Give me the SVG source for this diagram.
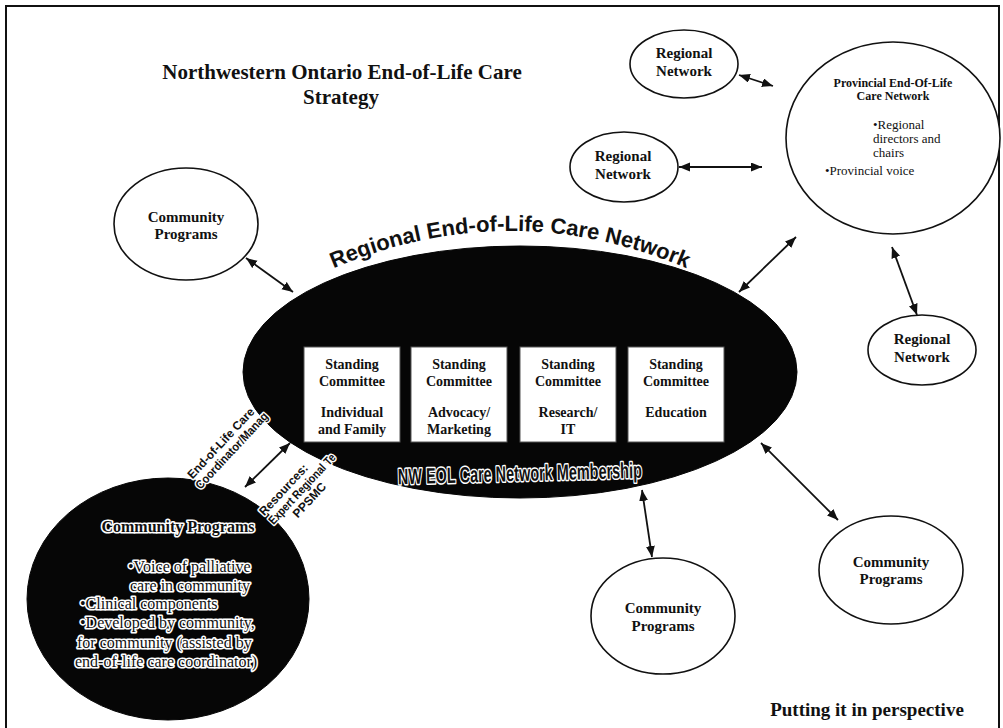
<svg xmlns="http://www.w3.org/2000/svg" width="1003" height="728" viewBox="0 0 1003 728">
<style>
.frame{fill:none;stroke:#111;stroke-width:2}
.node{fill:#fff;stroke:#111;stroke-width:1.6}
.black{fill:#060606;stroke:#060606;stroke-width:1}
.box{fill:#fff;stroke:#555;stroke-width:1}
.lbl{font-family:"Liberation Serif","Times New Roman",serif;font-weight:bold;fill:#111;text-anchor:middle}
.reg{font-family:"Liberation Serif","Times New Roman",serif;fill:#111}
.halo{font-family:"Liberation Serif","Times New Roman",serif;fill:#111;stroke:#fff;stroke-width:3.2;paint-order:stroke;stroke-linejoin:round}
.sans{font-family:"Liberation Sans",Arial,sans-serif;font-weight:bold;fill:#111}
.sanshalo{font-family:"Liberation Sans",Arial,sans-serif;font-weight:bold;fill:#111;stroke:#fff;stroke-width:3;paint-order:stroke;stroke-linejoin:round}
.conn line{stroke:#111;stroke-width:1.8;marker-start:url(#ah);marker-end:url(#ah)}
</style>
<defs>
<marker id="ah" markerUnits="userSpaceOnUse" markerWidth="12" markerHeight="10" refX="11" refY="4.5" orient="auto-start-reverse">
<path d="M0,0 L11,4.5 L0,9 z" fill="#111"/>
</marker>
<path id="arc" d="M316,276 Q510,186 704,276"/>
</defs>
<rect width="1003" height="728" fill="#fff"/>
<rect class="frame" x="6" y="6" width="993" height="740"/>

<g id="title">
<text class="lbl" x="342" y="79" font-size="21">Northwestern Ontario End-of-Life Care</text>
<text class="lbl" x="341" y="104" font-size="21">Strategy</text>
</g>

<g id="regional-network-top">
<ellipse class="node" cx="684" cy="64" rx="54" ry="34"/>
<text class="lbl" x="684" y="58" font-size="15">Regional</text>
<text class="lbl" x="684" y="76" font-size="15">Network</text>
</g>

<g id="regional-network-mid">
<ellipse class="node" cx="624" cy="167" rx="54" ry="35"/>
<text class="lbl" x="623" y="161" font-size="15">Regional</text>
<text class="lbl" x="623" y="179" font-size="15">Network</text>
</g>

<g id="provincial-network">
<ellipse class="node" cx="893" cy="138" rx="107" ry="96"/>
<text class="lbl" x="893" y="87" font-size="12">Provincial End-Of-Life</text>
<text class="lbl" x="893" y="100" font-size="12">Care Network</text>
<text class="reg" x="873" y="129" font-size="13">•Regional</text>
<text class="reg" x="873" y="143" font-size="13">directors and</text>
<text class="reg" x="873" y="157" font-size="13">chairs</text>
<text class="reg" x="825" y="175" font-size="13">•Provincial voice</text>
</g>

<g id="regional-network-right">
<ellipse class="node" cx="922" cy="350" rx="54" ry="35"/>
<text class="lbl" x="922" y="344" font-size="15">Regional</text>
<text class="lbl" x="922" y="362" font-size="15">Network</text>
</g>

<g id="community-top-left">
<ellipse class="node" cx="186" cy="224" rx="72" ry="56"/>
<text class="lbl" x="186" y="222" font-size="15">Community</text>
<text class="lbl" x="186" y="239" font-size="15">Programs</text>
</g>

<g id="community-bottom">
<ellipse class="node" cx="663" cy="616" rx="72" ry="58"/>
<text class="lbl" x="663" y="613" font-size="15">Community</text>
<text class="lbl" x="663" y="631" font-size="15">Programs</text>
</g>

<g id="community-right">
<ellipse class="node" cx="891" cy="570" rx="72" ry="54"/>
<text class="lbl" x="891" y="567" font-size="15">Community</text>
<text class="lbl" x="891" y="584" font-size="15">Programs</text>
</g>

<g id="regional-eol-network">
<text class="sans" font-size="22"><textPath href="#arc" startOffset="50%" text-anchor="middle">Regional End-of-Life Care Network</textPath></text>
<ellipse class="black" cx="520" cy="372" rx="277" ry="126"/>
<text class="sanshalo" x="398" y="481" font-size="22" textLength="244" lengthAdjust="spacingAndGlyphs" transform="rotate(-1.5 520 478)">NW EOL Care Network Membership</text>
</g>

<g id="committee-individual">
<rect class="box" x="304" y="347" width="96" height="95"/>
<text class="lbl" x="352" y="369" font-size="14">Standing</text>
<text class="lbl" x="352" y="386" font-size="14">Committee</text>
<text class="lbl" x="352" y="417" font-size="14">Individual</text>
<text class="lbl" x="352" y="434" font-size="14">and Family</text>
</g>
<g id="committee-advocacy">
<rect class="box" x="411" y="347" width="96" height="95"/>
<text class="lbl" x="459" y="369" font-size="14">Standing</text>
<text class="lbl" x="459" y="386" font-size="14">Committee</text>
<text class="lbl" x="459" y="417" font-size="14">Advocacy/</text>
<text class="lbl" x="459" y="434" font-size="14">Marketing</text>
</g>
<g id="committee-research">
<rect class="box" x="520" y="347" width="96" height="95"/>
<text class="lbl" x="568" y="369" font-size="14">Standing</text>
<text class="lbl" x="568" y="386" font-size="14">Committee</text>
<text class="lbl" x="568" y="417" font-size="14">Research/</text>
<text class="lbl" x="568" y="434" font-size="14">IT</text>
</g>
<g id="committee-education">
<rect class="box" x="628" y="347" width="96" height="95"/>
<text class="lbl" x="676" y="369" font-size="14">Standing</text>
<text class="lbl" x="676" y="386" font-size="14">Committee</text>
<text class="lbl" x="676" y="417" font-size="14">Education</text>
</g>

<g id="community-programs-local">
<ellipse class="black" cx="168" cy="599" rx="141" ry="121"/>
<text class="halo" x="178" y="532" font-size="16" font-weight="bold" text-anchor="middle">Community Programs</text>
<text class="halo" x="128" y="572" font-size="16">•Voice of palliative</text>
<text class="halo" x="130" y="591" font-size="16">care in community</text>
<text class="halo" x="80" y="609" font-size="16">•Clinical components</text>
<text class="halo" x="80" y="628" font-size="16">•Developed by community,</text>
<text class="halo" x="77" y="648" font-size="16">for community (assisted by</text>
<text class="halo" x="75" y="667" font-size="16">end-of-life care coordinator)</text>
</g>

<g id="coordinator-label" transform="translate(226,448) rotate(-47)">
<text class="sanshalo" x="0" y="-3" font-size="12" text-anchor="middle" textLength="92" lengthAdjust="spacingAndGlyphs">End-of-Life Care</text>
<text class="sanshalo" x="2" y="10" font-size="12" text-anchor="middle" textLength="100" lengthAdjust="spacingAndGlyphs">Coordinator/Manag</text>
</g>

<g id="resources-label" transform="translate(302,489) rotate(-47)">
<text class="sanshalo" x="-13" y="-9" font-size="12" text-anchor="middle">Resources:</text>
<text class="sanshalo" x="0" y="4" font-size="12" text-anchor="middle" textLength="92" lengthAdjust="spacingAndGlyphs">Expert Regional Te</text>
<text class="sanshalo" x="-3" y="17" font-size="12" text-anchor="middle">PPSMC</text>
</g>

<g id="connectors" class="conn">
<line x1="739" y1="75" x2="773" y2="86"/>
<line x1="679" y1="167" x2="762" y2="167"/>
<line x1="246" y1="258" x2="293" y2="292"/>
<line x1="739" y1="292" x2="796" y2="237"/>
<line x1="892" y1="247" x2="917" y2="315"/>
<line x1="642" y1="490" x2="652" y2="557"/>
<line x1="761" y1="443" x2="838" y2="520"/>
<line x1="290" y1="443" x2="245" y2="487"/>
</g>

<text id="footer" class="lbl" x="867" y="716" font-size="19">Putting it in perspective</text>
</svg>
